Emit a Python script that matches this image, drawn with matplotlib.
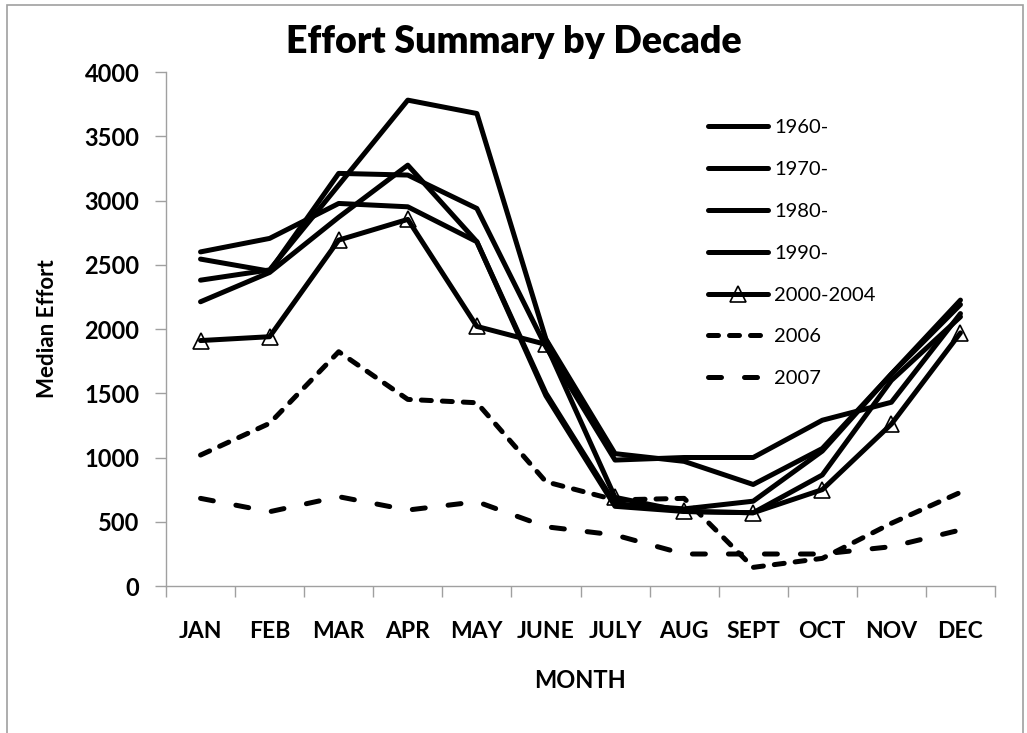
import numpy as np
import matplotlib
matplotlib.use('Agg')
import matplotlib.pyplot as plt
from matplotlib.patches import Rectangle
from matplotlib.legend_handler import HandlerTuple

# ---- data ----
months = ['JAN', 'FEB', 'MAR', 'APR', 'MAY', 'JUNE', 'JULY', 'AUG', 'SEPT', 'OCT', 'NOV', 'DEC']
series_names = ['1960-', '1970-', '1980-', '1990-', '2000-2004', '2006', '2007']
s1960 = [2600, 2705, 2977, 2951, 2679, 1500, 640, 600, 660, 1050, 1650, 2190]
s1970 = [2544, 2450, 3211, 3198, 2938, 1860, 980, 1000, 1000, 1290, 1430, 2120]
s1980 = [2380, 2460, 3120, 3781, 3677, 1920, 1030, 970, 790, 1070, 1650, 2225]
s1990 = [2212, 2440, 2870, 3275, 2679, 1480, 620, 580, 570, 864, 1600, 2095]
s2000 = [1910, 1940, 2692, 2853, 2020, 1880, 690, 580, 570, 750, 1260, 1970]
s2006 = [1019, 1266, 1823, 1452, 1426, 811, 670, 682, 145, 215, 488, 729]
s2007 = [682, 578, 695, 591, 656, 461, 397, 249, 249, 249, 306, 436]
y_ticks = [0, 500, 1000, 1500, 2000, 2500, 3000, 3500, 4000]

plt.rcParams['font.family'] = ['Lato', 'DejaVu Sans']
GRAY = '#A0A0A0'
LW = 3.6

W, H = 1027, 733
fig = plt.figure(figsize=(W / 100, H / 100), dpi=100)
ax = fig.add_axes([166 / W, 1 - 586 / H, (995 - 166) / W, (586 - 72) / H])

x = np.arange(len(months))
handles = []
for vals in [s1960, s1970, s1980, s1990]:
    h, = ax.plot(x, vals, color='black', lw=LW, solid_capstyle='round',
                 solid_joinstyle='round', zorder=3)
    handles.append(h)
mk, = ax.plot(x, s2000, ls='none', marker='^', ms=11, mfc='none', mec='black',
              mew=1.2, zorder=2)
ln, = ax.plot(x, s2000, color='black', lw=LW, solid_capstyle='round',
              solid_joinstyle='round', zorder=3)
handles.append((mk, ln))
h6, = ax.plot(x, s2006, color='black', lw=LW, dashes=(2.0, 2.2),
              dash_capstyle='round', dash_joinstyle='round', zorder=3)
h7, = ax.plot(x, s2007, color='black', lw=LW, dashes=(2.6, 4.6),
              dash_capstyle='round', dash_joinstyle='round', zorder=3)
handles += [h6, h7]

ax.set_xlim(-0.5, len(months) - 0.5)
ax.set_ylim(0, 4000)
ax.set_xticks(x)
ax.set_xticklabels(months, fontweight='bold', fontsize=16.5)
ax.set_xticks(np.arange(-0.5, len(months), 1.0), minor=True)
ax.tick_params(axis='x', which='major', length=0, pad=25)
ax.tick_params(axis='x', which='minor', length=8, width=1, color=GRAY, direction='out')
ax.set_yticks(y_ticks)
ax.set_yticklabels([str(v) for v in y_ticks], fontweight='bold', fontsize=17)
ax.tick_params(axis='y', length=8, width=1, color=GRAY, direction='out', pad=11)

for s in ['top', 'right']:
    ax.spines[s].set_visible(False)
for s in ['left', 'bottom']:
    ax.spines[s].set_color(GRAY)
    ax.spines[s].set_linewidth(1)

ax.set_xlabel('MONTH', fontweight='bold', fontsize=17)
ax.xaxis.label.set_va('center')
ax.xaxis.set_label_coords(0.5, (586 - 680) / 514)
ax.set_ylabel('Median Effort', fontweight='bold', fontsize=16)
ax.yaxis.label.set_va('center')
ax.yaxis.set_label_coords((47 - 166) / 829, 0.5)

fig.text(0.5, 1 - 42 / H, 'Effort Summary by Decade', ha='center', va='center',
         fontsize=27, fontweight='heavy')

ax.legend(handles, series_names, loc='upper left',
          bbox_to_anchor=(708 / W, 1 - 119 / H), bbox_transform=fig.transFigure,
          frameon=False, borderpad=0, borderaxespad=0, handlelength=3.0,
          handletextpad=0.3, labelspacing=1.23, prop={'size': 14.5},
          handler_map={tuple: HandlerTuple(ndivide=1)})

fig.patches.append(Rectangle((7 / W, -0.1), (1023 - 7) / W, 1.1 - 5 / H,
                             transform=fig.transFigure, fill=False,
                             edgecolor=GRAY, lw=1.2))

fig.savefig('out.png', dpi=100)
